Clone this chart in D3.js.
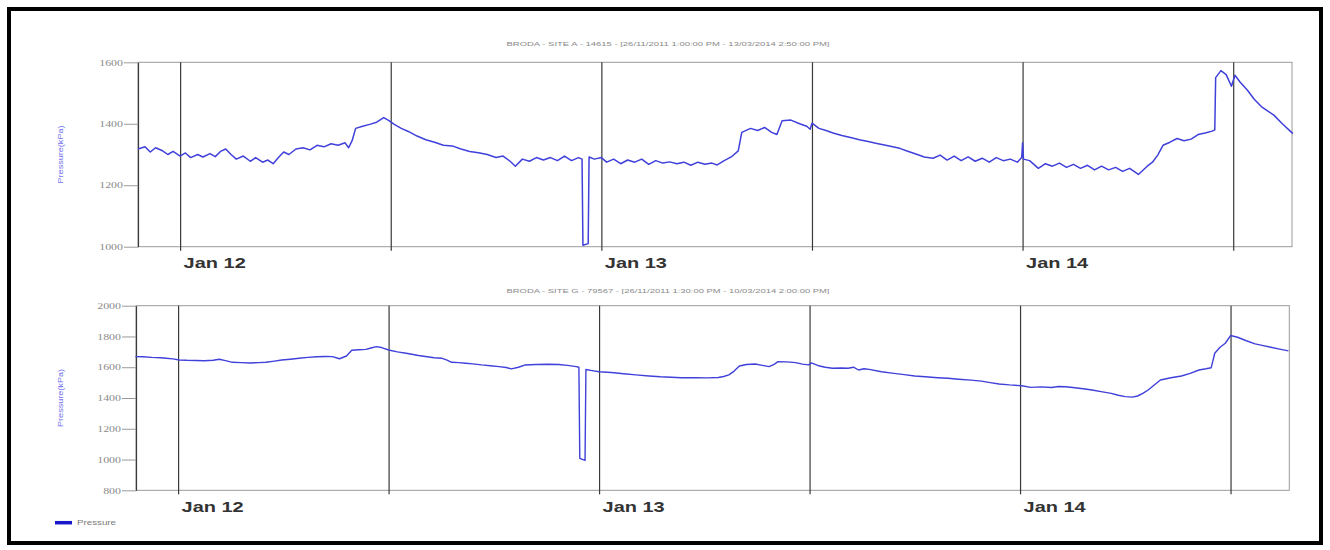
<!DOCTYPE html>
<html>
<head>
<meta charset="utf-8">
<script src="https://cdn.jsdelivr.net/npm/d3@7"></script>
<style>
body { margin: 0; background: #fff; }
svg { display: block; font-family: "Liberation Sans", Arial, sans-serif; }
</style>
</head>
<body>
<svg id="chart"></svg>
<script>
// hours relative to Jan 12 00:00
var hoursA = [-2.4,-2.0,-1.7,-1.4,-1.0,-0.7,-0.4,0.0,0.3,0.6,1.0,1.3,1.7,2.0,2.3,2.6,2.9,3.2,3.6,4.0,4.3,4.7,5.0,5.3,5.6,5.9,6.2,6.6,7.0,7.4,7.8,8.2,8.6,9.0,9.4,9.6,9.8,10.0,10.4,10.8,11.2,11.6,11.9,12.2,12.6,13.0,13.5,14.0,14.5,15.0,15.5,16.0,16.5,17.0,17.5,18.0,18.4,18.8,19.1,19.5,19.9,20.3,20.7,21.1,21.5,21.9,22.3,22.7,22.9,22.95,23.25,23.3,23.6,24.0,24.3,24.7,25.1,25.5,25.9,26.3,26.7,27.1,27.5,27.9,28.3,28.7,29.1,29.5,29.9,30.3,30.6,31.0,31.4,31.8,32.0,32.5,32.9,33.3,33.7,34.0,34.3,34.8,35.3,35.7,35.9,36.0,36.4,36.8,37.2,37.7,38.2,38.7,39.2,39.7,40.2,40.6,41.0,41.5,42.0,42.4,42.9,43.3,43.7,44.1,44.5,44.9,45.3,45.7,46.1,46.5,46.9,47.3,47.7,47.95,48.0,48.05,48.4,48.9,49.3,49.7,50.1,50.5,50.9,51.3,51.7,52.1,52.5,52.9,53.3,53.7,54.1,54.6,55.1,55.4,55.7,56.0,56.4,56.8,57.2,57.6,58.0,58.4,58.8,58.95,59.0,59.3,59.6,59.9,60.1,60.4,60.8,61.2,61.6,62.0,62.3,62.8,63.4];
var pressureA = [1318,1325,1308,1322,1312,1300,1310,1295,1305,1290,1300,1292,1303,1293,1310,1318,1300,1285,1295,1278,1290,1275,1282,1270,1290,1308,1300,1318,1322,1315,1330,1325,1335,1330,1338,1322,1345,1385,1392,1398,1405,1420,1410,1398,1385,1375,1360,1348,1340,1330,1328,1318,1310,1306,1300,1290,1295,1278,1262,1285,1278,1290,1282,1290,1280,1295,1280,1290,1285,1005,1010,1292,1285,1290,1275,1285,1270,1282,1275,1285,1268,1280,1272,1276,1270,1275,1265,1275,1268,1272,1266,1280,1292,1312,1372,1385,1378,1388,1372,1365,1410,1412,1400,1392,1382,1402,1385,1378,1370,1362,1355,1348,1342,1336,1330,1325,1320,1310,1300,1292,1288,1298,1282,1295,1280,1292,1278,1288,1275,1290,1280,1285,1275,1290,1338,1285,1280,1255,1270,1262,1272,1258,1268,1255,1265,1250,1262,1250,1258,1245,1255,1235,1262,1275,1298,1330,1340,1352,1345,1350,1365,1370,1376,1380,1550,1573,1560,1522,1558,1535,1510,1480,1456,1440,1429,1400,1368];

var hoursG = [-2.43,-2.0,-1.5,-1.0,-0.68,-0.3,0.07,0.5,1.0,1.5,2.0,2.35,2.7,3.1,3.6,4.1,4.6,5.0,5.5,5.9,6.4,6.9,7.4,7.9,8.4,8.8,9.2,9.6,9.9,10.3,10.7,11.0,11.3,11.6,12.0,12.5,13.0,13.4,13.7,14.2,14.6,15.05,15.3,15.6,16.0,16.4,16.8,17.3,17.8,18.3,18.7,19.0,19.4,19.8,20.4,21.1,21.7,22.2,22.7,22.85,22.9,23.2,23.25,23.6,24.0,24.7,25.4,26.1,26.85,27.5,28.1,28.7,29.5,30.2,30.8,31.1,31.4,31.7,32.0,32.4,32.9,33.3,33.7,34.0,34.2,34.7,35.2,35.6,35.95,36.1,36.5,36.9,37.3,37.8,38.2,38.5,38.8,39.1,39.4,40.1,40.7,41.4,42.0,42.6,43.3,43.9,44.5,45.2,45.8,46.3,46.8,47.4,48.1,48.6,49.2,49.8,50.2,50.6,51.0,51.6,52.1,52.7,53.2,53.6,54.0,54.4,54.7,55.0,55.3,55.6,56.0,56.6,57.2,57.7,58.2,58.6,58.9,59.1,59.4,59.7,60.0,60.4,60.9,61.4,61.8,62.3,62.8,63.3];
var pressureG = [1669,1668,1664,1662,1658,1654,1647,1645,1644,1642,1645,1652,1643,1632,1630,1628,1630,1632,1640,1647,1652,1658,1664,1668,1670,1669,1655,1673,1710,1714,1716,1725,1734,1728,1712,1700,1691,1683,1676,1668,1662,1658,1648,1632,1630,1626,1622,1615,1610,1604,1598,1589,1600,1615,1618,1619,1618,1612,1604,1600,1008,994,1585,1578,1571,1566,1558,1550,1543,1538,1535,1532,1532,1531,1533,1540,1550,1575,1608,1618,1621,1612,1604,1620,1636,1635,1630,1620,1615,1628,1610,1600,1593,1595,1593,1600,1582,1590,1586,1571,1562,1552,1543,1538,1532,1528,1522,1516,1510,1500,1491,1485,1480,1469,1472,1468,1475,1473,1468,1460,1452,1440,1430,1418,1409,1406,1413,1430,1452,1480,1517,1532,1543,1560,1582,1590,1597,1691,1730,1756,1806,1795,1772,1752,1742,1730,1718,1706];

var yTicksA = [1000, 1200, 1400, 1600];
var yTicksG = [800, 1000, 1200, 1400, 1600, 1800, 2000];
var titleA = "BRODA - SITE A - 14615 - [26/11/2011 1:00:00 PM - 13/03/2014 2:50:00 PM]";
var titleG = "BRODA - SITE G - 79567 - [26/11/2011 1:30:00 PM - 10/03/2014 2:00:00 PM]";
var yLabel = "Pressure(kPa)";
var seriesName = "Pressure";

var baseTime = new Date(2014, 0, 12, 0, 0);
var startTime = new Date(2014, 0, 11, 21, 36);
var endTime = new Date(2014, 0, 14, 15, 21);
var lineColor = "#4040da";

function toPoints(hours, values) {
    return hours.map(function(h, i) {
        return { t: new Date(baseTime.getTime() + h * 3600e3), v: values[i] };
    });
}

function stretch(sel, k) {
    sel.each(function() {
        var w = this.getComputedTextLength();
        d3.select(this).attr("textLength", w * k).attr("lengthAdjust", "spacingAndGlyphs");
    });
}

var svg = d3.select("#chart")
    .attr("width", 1330)
    .attr("height", 550);

svg.append("rect")
    .attr("x", 9).attr("y", 9)
    .attr("width", 1312).attr("height", 534)
    .attr("fill", "none")
    .attr("stroke", "#000")
    .attr("stroke-width", 4);

var panels = [
    { title: titleA, titleY: -16, data: toPoints(hoursA, pressureA), yTicks: yTicksA, left: 138, top: 62.3, width: 1154, height: 184.4, lineWidth: 1.5 },
    { title: titleG, titleY: -12.5, data: toPoints(hoursG, pressureG), yTicks: yTicksG, left: 136, top: 305.7, width: 1153.3, height: 184.6, lineWidth: 1.4 }
];

panels.forEach(function(p) {
    var g = svg.append("g")
        .attr("transform", `translate(${p.left}, ${p.top})`);

    var x = d3.scaleTime().domain([startTime, endTime]).range([0, p.width]);
    var y = d3.scaleLinear().domain(d3.extent(p.yTicks)).range([p.height, 0]);

    g.append("rect")
        .attr("width", p.width)
        .attr("height", p.height)
        .attr("fill", "none")
        .attr("stroke", "#9a9a9a");

    // 12-hour gridlines
    var grid = g.append("g")
        .attr("transform", `translate(0, ${p.height})`)
        .call(d3.axisBottom(x).ticks(d3.timeHour.every(12)).tickSizeInner(-p.height).tickSizeOuter(0).tickFormat(""));
    grid.select(".domain").remove();
    grid.selectAll(".tick line")
        .attr("y1", 4)
        .attr("stroke", "#3a3a3a")
        .attr("stroke-width", 1.2);

    // day labels
    var days = g.append("g")
        .attr("transform", `translate(0, ${p.height})`)
        .call(d3.axisBottom(x).ticks(d3.timeDay.every(1)).tickSize(0).tickFormat(d3.timeFormat("%b %d")));
    days.select(".domain").remove();
    days.selectAll(".tick text")
        .attr("y", 21.5)
        .attr("dy", 0)
        .attr("x", 3)
        .attr("text-anchor", "start")
        .attr("font-family", "Liberation Sans, Arial, sans-serif")
        .attr("font-size", 15)
        .attr("font-weight", "bold")
        .attr("fill", "#333");
    stretch(days.selectAll(".tick text"), 1.33);

    // y axis
    var yAxis = g.append("g")
        .call(d3.axisLeft(y).tickValues(p.yTicks).tickFormat(d3.format("d")).tickSizeInner(14).tickSizeOuter(0).tickPadding(1));
    yAxis.select(".domain").attr("stroke", "#3a3a3a").attr("stroke-width", 1.2);
    yAxis.selectAll(".tick line").attr("stroke", "#9a9a9a");
    yAxis.selectAll(".tick text")
        .attr("font-family", "Liberation Serif, serif")
        .attr("font-size", 8.5)
        .attr("fill", "#8a8a8a");
    stretch(yAxis.selectAll(".tick text"), 1.4);

    g.append("text")
        .attr("transform", `translate(${63 - p.left}, ${p.height / 2}) rotate(-90)`)
        .attr("text-anchor", "middle")
        .attr("font-size", 8)
        .attr("fill", "#7070f0")
        .attr("textLength", 58)
        .attr("lengthAdjust", "spacingAndGlyphs")
        .text(yLabel);

    g.append("text")
        .attr("x", 668 - p.left)
        .attr("y", p.titleY)
        .attr("text-anchor", "middle")
        .attr("font-size", 6)
        .attr("fill", "#8a8a8a")
        .attr("textLength", 323)
        .attr("lengthAdjust", "spacingAndGlyphs")
        .text(p.title);

    var line = d3.line()
        .x(d => x(d.t))
        .y(d => y(d.v));

    g.append("path")
        .datum(p.data)
        .attr("d", line)
        .attr("fill", "none")
        .attr("stroke", lineColor)
        .attr("stroke-width", p.lineWidth)
        .attr("stroke-linejoin", "round");
});

// legend
svg.append("line")
    .attr("x1", 55).attr("x2", 72)
    .attr("y1", 522.7).attr("y2", 522.7)
    .attr("stroke", "#1818c8")
    .attr("stroke-width", 3.5);

svg.append("text")
    .attr("x", 77)
    .attr("y", 525)
    .attr("font-size", 7)
    .attr("fill", "#7a7a7a")
    .attr("textLength", 39)
    .attr("lengthAdjust", "spacingAndGlyphs")
    .text(seriesName);
</script>
</body>
</html>
